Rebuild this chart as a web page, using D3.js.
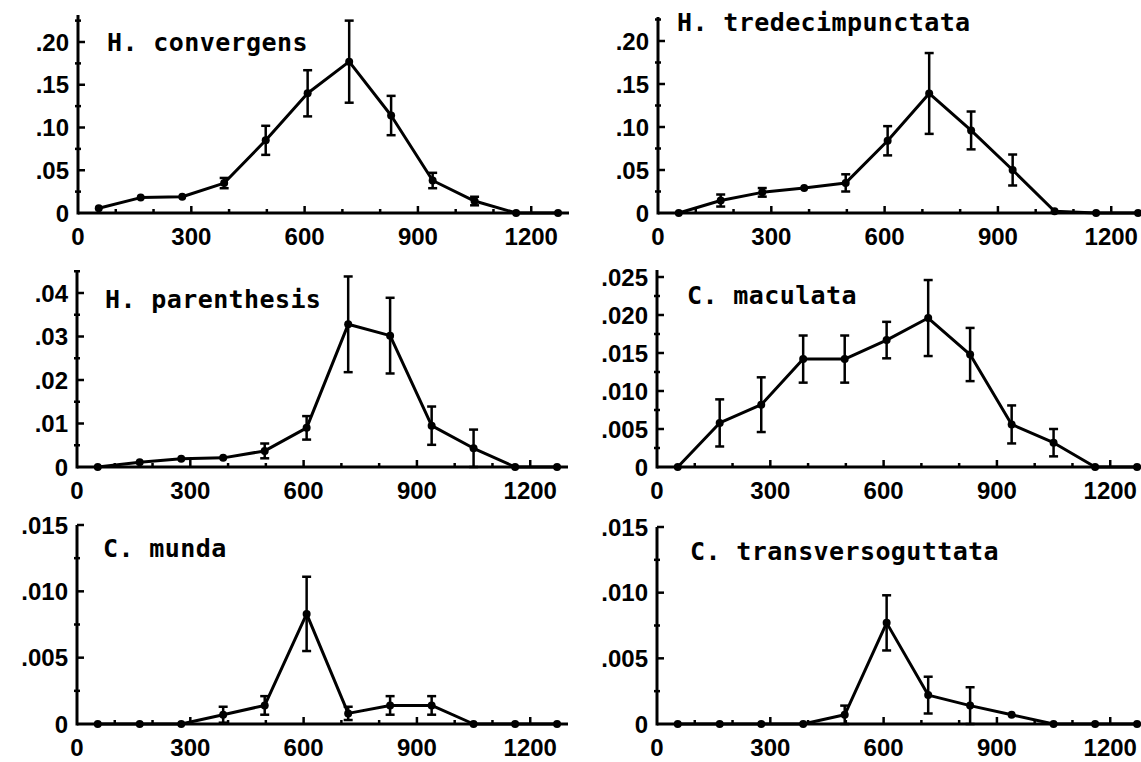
<!DOCTYPE html>
<html>
<head>
<meta charset="utf-8">
<script src="https://cdn.jsdelivr.net/npm/d3@7"></script>
<style>
  html, body { margin: 0; padding: 0; background: #fff; }
  svg { display: block; }
  .lab { font-family: "Liberation Sans", Arial, sans-serif; font-weight: bold; font-size: 24px; fill: #000; }
  .ttl { font-family: "DejaVu Sans Mono", monospace; font-weight: bold; font-size: 25px; letter-spacing: 0.4px; fill: #000; }
</style>
</head>
<body>
<svg id="chart" width="1141" height="762"></svg>
<script>
// ---- data ----
const elevations = [55, 166, 276, 387, 497, 608, 718, 829, 939, 1050, 1160, 1271];
const xTickValues = [0, 300, 600, 900, 1200];
const xTickLabels = ["0", "300", "600", "900", "1200"];

const speciesNames = ["H. convergens", "H. tredecimpunctata", "H. parenthesis", "C. maculata", "C. munda", "C. transversoguttata"];

const convergens      = [0.0055, 0.018, 0.019, 0.035, 0.085, 0.140, 0.177, 0.114, 0.038, 0.014, 0, 0];
const convergensErr   = [0, 0, 0, 0.006, 0.017, 0.027, 0.048, 0.023, 0.009, 0.005, 0, 0];

const tredecim        = [0, 0.0145, 0.024, 0.029, 0.035, 0.084, 0.139, 0.096, 0.050, 0.002, 0, 0];
const tredecimErr     = [0, 0.007, 0.005, 0, 0.010, 0.017, 0.047, 0.022, 0.018, 0, 0, 0];

const parenthesis     = [0, 0.0011, 0.0019, 0.0021, 0.0037, 0.0090, 0.0328, 0.0302, 0.0095, 0.0043, 0, 0];
const parenthesisErr  = [0, 0, 0, 0, 0.0017, 0.0027, 0.0110, 0.0087, 0.0044, 0.0043, 0, 0];

const maculata        = [0, 0.0058, 0.0082, 0.0142, 0.0142, 0.0167, 0.0196, 0.0148, 0.0056, 0.0032, 0, 0];
const maculataErr     = [0, 0.0031, 0.0036, 0.0031, 0.0031, 0.0024, 0.0050, 0.0035, 0.0025, 0.0018, 0, 0];

const munda           = [0, 0, 0, 0.0007, 0.0014, 0.0083, 0.0008, 0.0014, 0.0014, 0, 0, 0];
const mundaErr        = [0, 0, 0, 0.0006, 0.0007, 0.0028, 0.0005, 0.0007, 0.0007, 0, 0, 0];

const transverso      = [0, 0, 0, 0, 0.0007, 0.0077, 0.0022, 0.0014, 0.0007, 0, 0, 0];
const transversoErr   = [0, 0, 0, 0, 0.0007, 0.0021, 0.0014, 0.0014, 0, 0, 0, 0];

const yTicks1 = [0, 0.05, 0.10, 0.15, 0.20];   const yLabels1 = ["0", ".05", ".10", ".15", ".20"];
const yTicks3 = [0, 0.01, 0.02, 0.03, 0.04];   const yLabels3 = ["0", ".01", ".02", ".03", ".04"];
const yTicks4 = [0, 0.005, 0.010, 0.015, 0.020, 0.025]; const yLabels4 = ["0", ".005", ".010", ".015", ".020", ".025"];
const yTicks5 = [0, 0.005, 0.010, 0.015];      const yLabels5 = ["0", ".005", ".010", ".015"];

// ---- layout (positions only) ----
const panels = [
  {name: speciesNames[0], vals: convergens,  errs: convergensErr,  ticks: yTicks1, labels: yLabels1, minorStep: 0.025,
   x0: 78,  axisY: 213, refVal: 0.20,  refY: 42,  yTop: 15,  tx: 107, ty: 51},
  {name: speciesNames[1], vals: tredecim,    errs: tredecimErr,    ticks: yTicks1, labels: yLabels1, minorStep: 0.025,
   x0: 658, axisY: 213, refVal: 0.20,  refY: 41,  yTop: 17,  tx: 677, ty: 31},
  {name: speciesNames[2], vals: parenthesis, errs: parenthesisErr, ticks: yTicks3, labels: yLabels3, minorStep: 0.005,
   x0: 77,  axisY: 467, refVal: 0.04,  refY: 293, yTop: 270, tx: 105, ty: 308},
  {name: speciesNames[3], vals: maculata,    errs: maculataErr,    ticks: yTicks4, labels: yLabels4, minorStep: 0.0025,
   x0: 657, axisY: 467, refVal: 0.025, refY: 277, yTop: 270, tx: 687, ty: 304},
  {name: speciesNames[4], vals: munda,       errs: mundaErr,       ticks: yTicks5, labels: yLabels5, minorStep: 0.0025,
   x0: 77,  axisY: 724, refVal: 0.015, refY: 525, yTop: 525, tx: 103, ty: 557},
  {name: speciesNames[5], vals: transverso,  errs: transversoErr,  ticks: yTicks5, labels: yLabels5, minorStep: 0.0025,
   x0: 657, axisY: 724, refVal: 0.015, refY: 527, yTop: 527, tx: 690, ty: 560}
];

const svg = d3.select("#chart");
svg.append("rect").attr("width", 1141).attr("height", 762).attr("fill", "#fff");

panels.forEach(p => {
  const g = svg.append("g");
  const x = d3.scaleLinear().domain([0, 1300]).range([p.x0, p.x0 + 491]);
  const y = d3.scaleLinear().domain([0, p.refVal]).range([p.axisY, p.refY]);
  const yMax = y.invert(p.yTop);

  // axes lines
  g.append("line").attr("x1", p.x0).attr("x2", x(1300)).attr("y1", p.axisY).attr("y2", p.axisY)
    .attr("stroke", "#000").attr("stroke-width", 3);
  g.append("line").attr("x1", p.x0).attr("x2", p.x0).attr("y1", p.axisY + 1.5).attr("y2", p.yTop)
    .attr("stroke", "#000").attr("stroke-width", 3);

  // x ticks every 100
  const xt = d3.range(100, 1300, 100);
  g.selectAll(".xt").data(xt).enter().append("line")
    .attr("x1", d => x(d)).attr("x2", d => x(d))
    .attr("y1", p.axisY).attr("y2", d => p.axisY - (d % 300 === 0 ? 7 : 4))
    .attr("stroke", "#000").attr("stroke-width", 2.5);

  // x labels
  g.selectAll(".xl").data(xTickValues).enter().append("text")
    .attr("class", "lab").attr("text-anchor", "middle")
    .attr("x", (d, i) => x(d)).attr("y", p.axisY + 32)
    .text((d, i) => xTickLabels[i]);

  // y major ticks
  g.selectAll(".yt").data(p.ticks.filter(d => d > 0)).enter().append("line")
    .attr("x1", p.x0).attr("x2", p.x0 + 7)
    .attr("y1", d => y(d)).attr("y2", d => y(d))
    .attr("stroke", "#000").attr("stroke-width", 2.5);
  // y minor ticks
  const minors = d3.range(p.minorStep, yMax, p.minorStep * 2);
  g.selectAll(".ym").data(minors).enter().append("line")
    .attr("x1", p.x0 - 3).attr("x2", p.x0 + 3)
    .attr("y1", d => y(d)).attr("y2", d => y(d))
    .attr("stroke", "#000").attr("stroke-width", 2.5);

  // y labels
  g.selectAll(".yl").data(p.ticks).enter().append("text")
    .attr("class", "lab").attr("text-anchor", "end")
    .attr("x", p.x0 - 9).attr("y", d => y(d) + 8.5)
    .text((d, i) => p.labels[i]);

  // title
  g.append("text").attr("class", "ttl").attr("x", p.tx).attr("y", p.ty).text(p.name);

  const pts = elevations.map((e, i) => ({x: e, v: p.vals[i], e: p.errs[i]}));

  // error bars
  const eb = pts.filter(d => d.e > 0);
  g.selectAll(".eb").data(eb).enter().append("line")
    .attr("x1", d => x(d.x)).attr("x2", d => x(d.x))
    .attr("y1", d => y(d.v - d.e)).attr("y2", d => y(d.v + d.e))
    .attr("stroke", "#000").attr("stroke-width", 2.5);
  ["lo", "hi"].forEach(k => {
    g.selectAll(".cap" + k).data(eb).enter().append("line")
      .attr("x1", d => x(d.x) - 4.5).attr("x2", d => x(d.x) + 4.5)
      .attr("y1", d => y(k === "lo" ? d.v - d.e : d.v + d.e))
      .attr("y2", d => y(k === "lo" ? d.v - d.e : d.v + d.e))
      .attr("stroke", "#000").attr("stroke-width", 2.5);
  });

  // line
  const line = d3.line().x(d => x(d.x)).y(d => y(d.v));
  g.append("path").attr("d", line(pts)).attr("fill", "none")
    .attr("stroke", "#000").attr("stroke-width", 3).attr("stroke-linejoin", "round");

  // points
  g.selectAll(".pt").data(pts).enter().append("circle")
    .attr("cx", d => x(d.x)).attr("cy", d => y(d.v)).attr("r", 4).attr("fill", "#000");
});
</script>
</body>
</html>
